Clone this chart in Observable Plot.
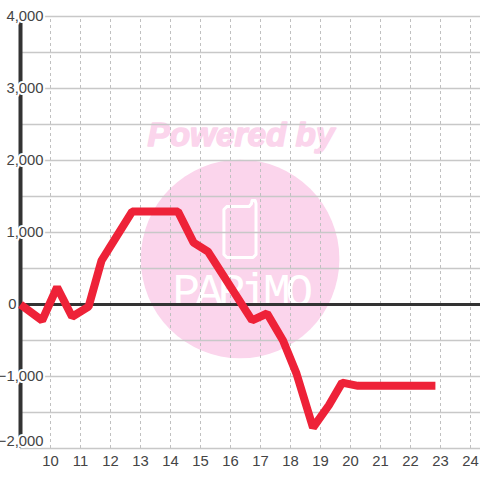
<!DOCTYPE html>
<html><head><meta charset="utf-8">
<style>html,body{margin:0;padding:0;background:#fff}svg{display:block}</style>
<script src="https://cdn.jsdelivr.net/npm/d3@7"></script>
<script src="https://cdn.jsdelivr.net/npm/@observablehq/plot@0.6"></script>
</head><body><div id="c"></div>
<script>
const hours=[9,9.72,10.22,10.72,11.27,11.7,12.72,14.25,14.77,15.25,16.72,17.22,17.75,18.2,18.75,19.28,19.72,20.25,22.83];
const values=[0,-222,240,-170,-30,610,1290,1290,860,735,-220,-125,-500,-960,-1710,-1400,-1085,-1130,-1130];
const xTicks=[10,11,12,13,14,15,16,17,18,19,20,21,22,23,24];
const yMajor=[4000,3000,2000,1000,-1000];
const yGrid=[4000,3500,3000,2500,2000,1500,1000,500,-500,-1000,-1500,-2000];
const phoneX=[15.88,16.62,16.7,16.72,16.82,16.85,16.85,16.75,15.88,15.78,15.78,15.88];
const phoneY=[1361,1361,1400,1444,1444,1400,695,653,653,695,1319,1361];
const data=hours.map((h,i)=>({h,v:values[i]}));
const phone=phoneX.map((x,i)=>({x,y:phoneY[i]}));
const fmt=d3.format(",");
const font="Liberation Sans, Arial, sans-serif";
const size=14.8;
const plot=Plot.plot({
  width:480,height:480,marginLeft:20,marginRight:0,marginTop:16,marginBottom:32,
  style:{fontFamily:font,background:"#fff"},
  x:{domain:[9,24.333],axis:null},
  y:{domain:[-2000,4000],axis:null},
  marks:[
    Plot.dot([0],{x:()=>16.32,y:()=>632,r:99.3,fill:"#fbd5ec",stroke:null}),
    Plot.text(["Powered by"],{x:()=>16.35,y:()=>2355,text:d=>d,fontSize:33.3,fontWeight:"bold",fontStyle:"italic",fill:"#fbd5ec",stroke:"#fbd5ec",strokeWidth:1.5,fontFamily:font}),
    Plot.line(phone,{x:"x",y:"y",stroke:"#fff",strokeWidth:3,strokeLinejoin:"round",curve:"linear"}),
    Plot.text(["PARiMO"],{x:()=>16.33,y:()=>190,text:d=>d,fontSize:46,fontFamily:"Liberation Mono",fill:"#fff"}),
    Plot.ruleX(xTicks,{y1:-2000,y2:4000,stroke:"#c0c0c0",strokeWidth:1,strokeDasharray:"3 3"}),
    Plot.ruleY(yGrid,{stroke:"#c8c8c8",strokeWidth:1.3}),
    Plot.ruleX([9],{y1:-2000,y2:4000,stroke:"#333",strokeWidth:4}),
    Plot.ruleY([0],{stroke:"#333",strokeWidth:3}),
    Plot.text(yMajor,{x:()=>9,y:d=>d,text:d=>fmt(d),dx:23,textAnchor:"end",fontSize:size,fill:"#444",stroke:"#fff",strokeWidth:4,paintOrder:"stroke"}),
    Plot.text([-2000],{x:()=>9,y:d=>d,text:d=>fmt(d),dx:23,dy:-7,textAnchor:"end",fontSize:size,fill:"#444",stroke:"#fff",strokeWidth:4,paintOrder:"stroke"}),
    Plot.text([0],{x:()=>9,y:d=>d,text:d=>fmt(d),dx:-4,textAnchor:"end",fontSize:size,fill:"#444"}),
    Plot.text(xTicks,{x:d=>d,y:()=>-2000,text:d=>String(d),dy:13,fontSize:size,fill:"#444"}),
    Plot.line(data,{x:"h",y:"v",stroke:"#ee2238",strokeWidth:8,strokeLinejoin:"miter",strokeLinecap:"butt",curve:"linear"})
  ]
});
document.getElementById("c").append(plot);
for(const t of plot.querySelectorAll("text")) if(t.textContent==="PARiMO") t.setAttribute("letter-spacing","-5");
</script></body></html>
